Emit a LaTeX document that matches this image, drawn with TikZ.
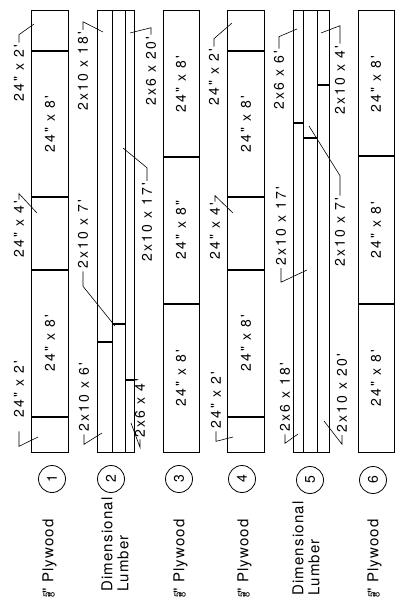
\documentclass[tikz,border=0pt]{standalone}
\usepackage{fontspec}
\newfontfamily\labfont[LetterSpace=15]{TeX Gyre Heros}
\newfontfamily\legfont[LetterSpace=8]{TeX Gyre Heros}
\newfontfamily\fracfont{TeX Gyre Heros}
\newcommand\lf{\labfont\fontsize{14}{16}\selectfont}
\newcommand\gf{\legfont\fontsize{15}{16}\selectfont}
\newcommand\fiveeighths{\raisebox{0.1ex}{\fracfont\fontsize{9.5}{9.5}\selectfont\begin{tabular}{@{}c@{}}5\\[-5pt]8\end{tabular}}\kern-1pt{\fracfont"}}
\begin{document}
\begin{tikzpicture}[x=1pt,y=-1pt,
  outl/.style={line width=0.9pt},
  bar/.style={line width=1.6pt},
  lead/.style={line width=0.6pt},
  dim/.style={rotate=90, font=\lf, inner sep=0pt},
  num/.style={draw, circle, line width=0.8pt, minimum size=27pt, inner sep=0pt, font=\lf, rotate=90},
  leg/.style={rotate=90, font=\gf, inner sep=0pt, anchor=west, align=left}]
\useasboundingbox (0,0) rectangle (401,603);

% ---------- strip 1 (plywood)
\draw[outl] (31,10) rectangle (68,452);
\foreach \yy in {51,197,270,417} \draw[bar] (31,\yy) -- (68,\yy);
% ---------- strip 2 (lumber)
\draw[outl] (97.5,10) rectangle (134.5,452);
\draw[outl] (112,10) -- (112,452);
\draw[outl] (125.5,10) -- (125.5,452);
\draw[bar] (97.5,342) -- (112,342);
\draw[bar] (112,324) -- (125.5,324);
\draw[bar] (125.5,380) -- (134.5,380);
% ---------- strip 3 (plywood)
\draw[outl] (163,10) rectangle (199,452);
\foreach \yy in {157,304} \draw[bar] (163,\yy) -- (199,\yy);
% ---------- strip 4 (plywood)
\draw[outl] (227,10) rectangle (264,452);
\foreach \yy in {51,197,270,417} \draw[bar] (227,\yy) -- (264,\yy);
% ---------- strip 5 (lumber)
\draw[outl] (293,10) rectangle (329,452);
\draw[outl] (303,10) -- (303,452);
\draw[outl] (317,10) -- (317,452);
\draw[bar] (293,123) -- (303,123);
\draw[bar] (303,138) -- (317,138);
\draw[bar] (317,85) -- (329,85);
% ---------- strip 6 (plywood)
\draw[outl] (358,10) rectangle (394,452);
\foreach \yy in {156,304} \draw[bar] (358,\yy) -- (394,\yy);

% ---------- labels strip 1
\node[dim] (a1) at (19,73) {24" x 2'};
\node[dim] (a2) at (50,124) {24" x 8'};
\node[dim] (a3) at (19,229) {24" x 4'};
\node[dim] (a4) at (50,343) {24" x 8'};
\node[dim] (a5) at (19,389) {24" x 2'};
\coordinate (ta1) at (34,24);
\coordinate (ta3) at (37,213);
\coordinate (ta5) at (38,437);
\draw[lead] (a1.east) ++(0,-2) -- ++(0,-8) -- (ta1);
\draw[lead] (a3.east) ++(0,-1) -- ++(0,-6) -- (ta3);
\draw[lead] (a5.west) ++(0,14) -- ++(0,15) -- (ta5);

% ---------- labels strip 2
\node[dim] (b1) at (83,71) {2x10 x 18'};
\node[dim] (b2) at (83,234) {2x10 x 7'};
\node[dim] (b3) at (84,397) {2x10 x 6'};
\node[dim] (b4) at (151,71) {2x6 x 20'};
\node[dim] (b5) at (147,222) {2x10 x 17'};
\node[dim] (b6) at (140,408) {2x6 x 4'};
\coordinate (tb1) at (103,32);
\coordinate (tb2) at (115,326);
\coordinate (tb3) at (102,433);
\coordinate (tb4) at (130,33);
\coordinate (tb5) at (123,148);
\coordinate (tb6) at (131,423);
\draw[lead] (b1.east) ++(0,-2) -- ++(0,-8) -- (tb1);
\draw[lead] (b2.west) ++(0,3) -- ++(0,15) -- (tb2);
\draw[lead] (b3.west) ++(0,3) -- ++(0,10) -- (tb3);
\draw[lead] (b4.east) ++(0,-2) -- ++(0,-7) -- (tb4);
\draw[lead] (b5.east) ++(0,-2) -- ++(0,-13) -- (tb5);
\draw[lead] (b6.west) ++(0,2) -- ++(0,8) -- (tb6);

% ---------- labels strip 3
\node[dim] (c1) at (181,84) {24" x 8'};
\node[dim] (c2) at (181,230) {24" x 8"};
\node[dim] (c3) at (181,378) {24" x 8'};

% ---------- labels strip 4
\node[dim] (d1) at (214,77) {24" x 2'};
\node[dim] (d2) at (246,124) {24" x 8'};
\node[dim] (d3) at (215,231) {24" x 4'};
\node[dim] (d4) at (246,343) {24" x 8'};
\node[dim] (d5) at (216,400) {24" x 2'};
\coordinate (td1) at (232,23);
\coordinate (td3) at (233,213);
\coordinate (td5) at (233,437);
\draw[lead] (d1.east) ++(0,-2) -- ++(0,-8) -- (td1);
\draw[lead] (d3.east) ++(0,-1) -- ++(0,-6) -- (td3);
\draw[lead] (d5.west) ++(0,3) -- ++(0,10) -- (td5);

% ---------- labels strip 5
\node[dim] (e1) at (279,80) {2x6 x 6'};
\node[dim] (e2) at (340,80) {2x10 x 4'};
\node[dim] (e3) at (340,232) {2x10 x 7'};
\node[dim] (e4) at (281,226) {2x10 x 17'};
\node[dim] (e5) at (285,397) {2x6 x 18'};
\node[dim] (e6) at (342,393) {2x10 x 20'};
\coordinate (te1) at (297,29);
\coordinate (te2) at (321,33);
\coordinate (te3) at (309,126);
\coordinate (te4) at (307,270);
\coordinate (te5) at (298,434);
\coordinate (te6) at (324,421);
\draw[lead] (e1.east) ++(0,-2) -- ++(0,-12) -- (te1);
\draw[lead] (e2.east) ++(0,-2) -- ++(0,-18) -- (te2);
\draw[lead] (e3.east) ++(0,-2) -- ++(0,-20) -- (te3);
\draw[lead] (e4.west) ++(0,3) -- ++(0,14) -- (te4);
\draw[lead] (e5.west) ++(0,3) -- ++(0,9) -- (te5);
\draw[lead] (e6.west) ++(0,3) -- ++(0,9) -- (te6);

% ---------- labels strip 6
\node[dim] (f1) at (376,84) {24" x 8'};
\node[dim] (f2) at (376,230) {24" x 8'};
\node[dim] (f3) at (376,378) {24" x 8'};

% ---------- legend
\node[num] (n1) at (52,479) {1};
\node[num] (n2) at (111,479) {2};
\node[num] (n3) at (179,479) {3};
\node[num] (n4) at (242,479) {4};
\node[num] (n5) at (310,480) {5};
\node[num] (n6) at (373,480) {6};
\node[leg] (g1) at (50,598) {\fiveeighths\ Plywood};
\node[leg] (g2) at (115,592) {Dimensional\\Lumber};
\node[leg] (g3) at (181,598) {\fiveeighths\ Plywood};
\node[leg] (g4) at (245,598) {\fiveeighths\ Plywood};
\node[leg] (g5) at (306,596) {Dimensional\\Lumber};
\node[leg] (g6) at (375,598) {\fiveeighths\ Plywood};
\end{tikzpicture}
\end{document}
